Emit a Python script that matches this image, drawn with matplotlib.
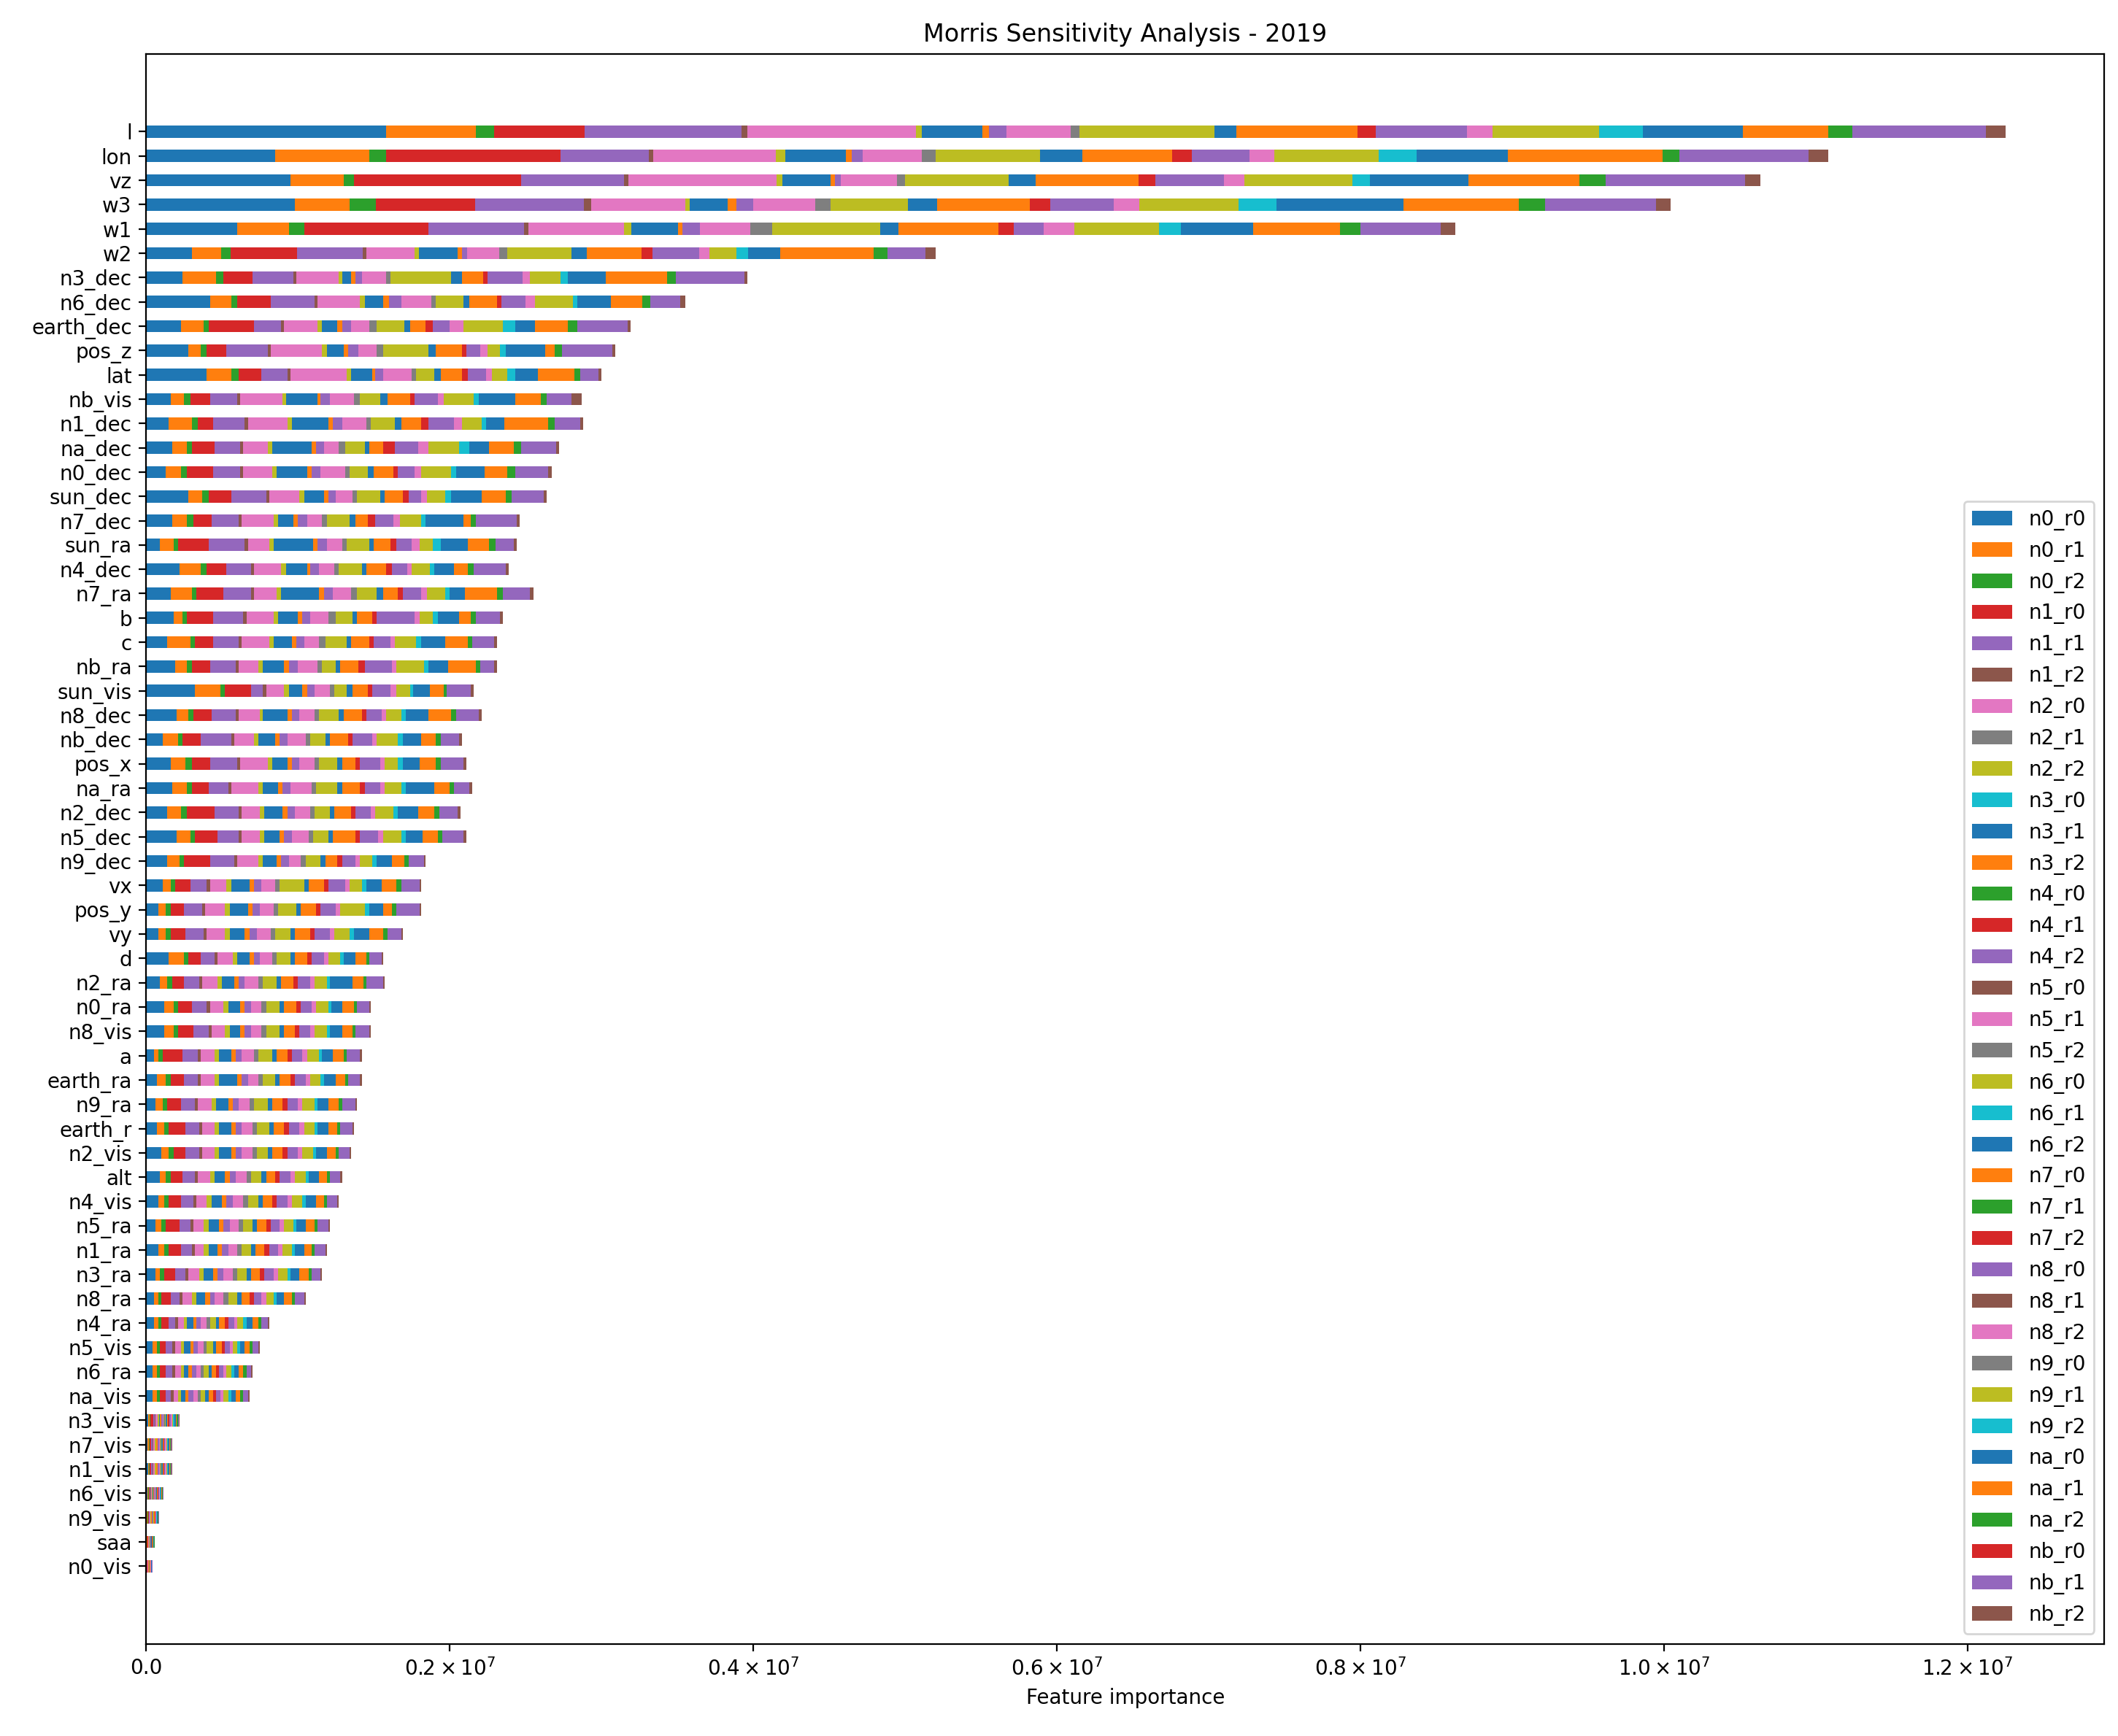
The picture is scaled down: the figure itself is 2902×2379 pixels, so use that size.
import matplotlib
matplotlib.use("Agg")
import matplotlib.pyplot as plt
import numpy as np
import pandas as pd
from matplotlib.ticker import FuncFormatter

# all segment names (legend order)
segments = [f"{n}_r{r}" for n in ['n0', 'n1', 'n2', 'n3', 'n4', 'n5', 'n6', 'n7', 'n8', 'n9', 'na', 'nb'] for r in range(3)]
# segments that actually carry a value in the picture (others are ~0)
active = ['n0_r0', 'n0_r1', 'n0_r2', 'n1_r0', 'n1_r1', 'n1_r2', 'n2_r0', 'n2_r2', 'n3_r1', 'n3_r2',
          'n4_r2', 'n5_r1', 'n5_r2', 'n6_r0', 'n6_r2', 'n7_r0', 'n7_r2', 'n8_r0', 'n8_r2', 'n9_r1',
          'n9_r2', 'na_r0', 'na_r1', 'na_r2', 'nb_r1', 'nb_r2']

# features top to bottom
features = ['l', 'lon', 'vz', 'w3', 'w1', 'w2', 'n3_dec', 'n6_dec', 'earth_dec', 'pos_z', 'lat', 'nb_vis',
            'n1_dec', 'na_dec', 'n0_dec', 'sun_dec', 'n7_dec', 'sun_ra', 'n4_dec', 'n7_ra', 'b', 'c', 'nb_ra',
            'sun_vis', 'n8_dec', 'nb_dec', 'pos_x', 'na_ra', 'n2_dec', 'n5_dec', 'n9_dec', 'vx', 'pos_y', 'vy',
            'd', 'n2_ra', 'n0_ra', 'n8_vis', 'a', 'earth_ra', 'n9_ra', 'earth_r', 'n2_vis', 'alt', 'n4_vis',
            'n5_ra', 'n1_ra', 'n3_ra', 'n8_ra', 'n4_ra', 'n5_vis', 'n6_ra', 'na_vis', 'n3_vis', 'n7_vis',
            'n1_vis', 'n6_vis', 'n9_vis', 'saa', 'n0_vis']

# values in units of 1e5, one row per feature, columns follow `active`
values = [
    [15.8, 5.9, 1.2, 6.0, 10.3, 0.4, 11.1, 0.4, 4.0, 0.4, 1.2, 4.2, 0.6, 8.9, 1.4, 8.0, 1.2, 6.0, 1.7, 7.0, 2.9, 6.6, 5.6, 1.6, 8.8, 1.3],
    [8.5, 6.2, 1.1, 11.5, 5.8, 0.3, 8.1, 0.6, 4.0, 0.4, 0.7, 3.9, 0.9, 6.9, 2.8, 5.9, 1.3, 3.8, 1.6, 6.9, 2.5, 6.0, 10.2, 1.1, 8.5, 1.3],
    [9.5, 3.5, 0.7, 11.0, 6.8, 0.25, 9.8, 0.35, 3.2, 0.3, 0.35, 3.7, 0.55, 6.8, 1.8, 6.8, 1.1, 4.5, 1.35, 7.1, 1.15, 6.5, 7.3, 1.75, 9.2, 1.0],
    [9.8, 3.6, 1.75, 6.5, 7.2, 0.45, 6.2, 0.3, 2.5, 0.6, 1.1, 4.1, 1.0, 5.1, 1.9, 6.1, 1.35, 4.2, 1.7, 6.5, 2.5, 8.4, 7.6, 1.7, 7.3, 1.0],
    [6.0, 3.4, 1.0, 8.2, 6.3, 0.3, 6.3, 0.45, 3.1, 0.3, 1.15, 3.3, 1.45, 7.1, 1.2, 6.6, 1.0, 2.0, 2.0, 5.6, 1.4, 4.8, 5.7, 1.35, 5.3, 0.95],
    [3.0, 1.95, 0.6, 4.4, 4.3, 0.25, 3.2, 0.25, 2.55, 0.3, 0.35, 2.1, 0.55, 4.2, 1.05, 3.6, 0.7, 3.1, 0.65, 1.8, 0.75, 2.1, 6.2, 0.9, 2.5, 0.65],
    [2.4, 2.2, 0.5, 1.9, 2.7, 0.2, 2.8, 0.2, 0.6, 0.3, 0.4, 1.6, 0.3, 4.0, 0.7, 1.4, 0.3, 2.3, 0.5, 2.0, 0.5, 2.5, 4.0, 0.6, 4.5, 0.2],
    [4.2, 1.4, 0.4, 2.2, 2.9, 0.2, 2.8, 0.3, 1.2, 0.4, 0.8, 2.0, 0.3, 1.8, 0.4, 1.8, 0.3, 1.6, 0.6, 2.5, 0.3, 2.2, 2.1, 0.5, 2.0, 0.3],
    [2.3, 1.5, 0.3, 3.0, 1.8, 0.2, 2.2, 0.3, 1.0, 0.3, 0.6, 1.2, 0.5, 1.8, 0.4, 1.0, 0.5, 1.1, 0.9, 2.6, 0.8, 1.3, 2.2, 0.6, 3.3, 0.2],
    [2.8, 0.8, 0.4, 1.3, 2.7, 0.2, 3.4, 0.3, 1.1, 0.3, 0.7, 1.2, 0.4, 3.0, 0.5, 1.7, 0.3, 0.9, 0.5, 0.8, 0.4, 2.6, 0.6, 0.5, 3.3, 0.2],
    [4.0, 1.6, 0.5, 1.5, 1.7, 0.2, 3.7, 0.3, 1.4, 0.2, 0.5, 1.9, 0.3, 1.2, 0.4, 1.4, 0.4, 1.2, 0.4, 1.0, 0.5, 1.5, 2.4, 0.4, 1.2, 0.2],
    [1.6, 0.9, 0.4, 1.3, 1.8, 0.2, 2.8, 0.2, 2.1, 0.2, 0.6, 1.6, 0.4, 1.3, 0.5, 1.5, 0.3, 1.5, 0.4, 2.0, 0.3, 2.4, 1.7, 0.4, 1.6, 0.7],
    [1.5, 1.5, 0.4, 1.0, 2.1, 0.2, 2.6, 0.3, 2.4, 0.3, 0.6, 1.6, 0.3, 1.6, 0.4, 1.3, 0.5, 1.7, 0.5, 1.3, 0.3, 1.2, 2.9, 0.4, 1.7, 0.2],
    [1.7, 1.0, 0.3, 1.5, 1.7, 0.2, 1.6, 0.3, 2.6, 0.3, 0.5, 1.0, 0.4, 1.3, 0.3, 0.9, 0.8, 1.5, 0.7, 2.0, 0.7, 1.3, 1.6, 0.5, 2.3, 0.2],
    [1.3, 1.0, 0.4, 1.7, 1.8, 0.2, 1.9, 0.3, 2.0, 0.3, 0.6, 1.6, 0.3, 1.2, 0.4, 1.3, 0.3, 1.1, 0.4, 2.0, 0.3, 1.9, 1.5, 0.5, 2.2, 0.2],
    [2.8, 0.9, 0.4, 1.5, 2.3, 0.2, 2.0, 0.3, 1.3, 0.3, 0.5, 1.1, 0.3, 1.5, 0.3, 1.2, 0.4, 0.8, 0.4, 1.2, 0.4, 2.0, 1.6, 0.4, 2.1, 0.2],
    [1.7, 1.0, 0.4, 1.2, 1.8, 0.2, 2.1, 0.3, 1.0, 0.3, 0.6, 1.0, 0.3, 1.5, 0.4, 0.8, 0.5, 1.2, 0.4, 1.4, 0.3, 2.5, 0.5, 0.3, 2.7, 0.2],
    [0.9, 0.9, 0.3, 2.0, 2.4, 0.2, 1.4, 0.3, 2.6, 0.3, 0.6, 1.0, 0.3, 1.5, 0.3, 1.1, 0.4, 1.0, 0.5, 0.9, 0.5, 1.8, 1.4, 0.4, 1.2, 0.2],
    [2.2, 1.4, 0.4, 1.3, 1.6, 0.2, 1.8, 0.3, 1.4, 0.2, 0.6, 1.0, 0.3, 1.5, 0.3, 1.3, 0.4, 1.0, 0.3, 1.2, 0.3, 1.3, 0.9, 0.4, 2.1, 0.2],
    [1.6, 1.4, 0.3, 1.8, 1.8, 0.2, 1.5, 0.3, 2.5, 0.3, 0.6, 1.2, 0.4, 1.3, 0.4, 1.0, 0.3, 1.2, 0.4, 1.2, 0.3, 1.0, 2.1, 0.4, 1.8, 0.2],
    [1.8, 0.6, 0.3, 1.7, 2.0, 0.2, 1.8, 0.3, 1.3, 0.3, 0.5, 1.2, 0.5, 1.1, 0.3, 1.0, 0.3, 2.5, 0.3, 0.9, 0.3, 1.4, 0.8, 0.3, 1.6, 0.2],
    [1.4, 1.5, 0.3, 1.2, 1.7, 0.2, 1.8, 0.3, 1.2, 0.3, 0.5, 1.0, 0.4, 1.4, 0.3, 1.2, 0.3, 1.1, 0.3, 1.4, 0.3, 1.6, 1.5, 0.3, 1.4, 0.2],
    [1.9, 0.8, 0.3, 1.2, 1.7, 0.2, 1.3, 0.3, 1.4, 0.3, 0.6, 1.3, 0.3, 0.9, 0.3, 1.2, 0.4, 1.8, 0.3, 1.8, 0.3, 1.3, 1.8, 0.3, 0.9, 0.2],
    [3.2, 1.7, 0.3, 1.7, 0.8, 0.2, 1.2, 0.3, 0.9, 0.3, 0.5, 1.0, 0.3, 0.8, 0.4, 1.0, 0.3, 1.2, 0.4, 0.9, 0.2, 1.1, 0.9, 0.2, 1.6, 0.2],
    [2.0, 0.8, 0.3, 1.2, 1.6, 0.2, 1.4, 0.2, 1.6, 0.3, 0.5, 1.0, 0.3, 1.3, 0.3, 1.2, 0.3, 1.0, 0.3, 1.0, 0.3, 1.5, 1.5, 0.3, 1.5, 0.2],
    [1.1, 1.0, 0.3, 1.2, 2.0, 0.2, 1.3, 0.3, 1.1, 0.3, 0.5, 1.2, 0.3, 1.0, 0.3, 1.2, 0.3, 1.3, 0.3, 1.4, 0.3, 1.2, 1.0, 0.3, 1.2, 0.2],
    [1.6, 1.0, 0.4, 1.2, 1.8, 0.2, 1.8, 0.3, 1.0, 0.3, 0.5, 1.0, 0.3, 1.2, 0.3, 0.9, 0.3, 1.3, 0.3, 0.9, 0.3, 1.1, 1.1, 0.3, 1.5, 0.2],
    [1.7, 1.0, 0.3, 1.1, 1.3, 0.2, 1.8, 0.3, 1.0, 0.3, 0.5, 1.4, 0.3, 1.4, 0.3, 1.2, 0.3, 1.0, 0.3, 1.1, 0.3, 1.9, 1.0, 0.3, 1.0, 0.2],
    [1.4, 0.9, 0.4, 1.8, 1.6, 0.2, 1.2, 0.3, 1.2, 0.3, 0.5, 1.0, 0.3, 1.0, 0.3, 1.1, 0.3, 1.0, 0.3, 1.2, 0.3, 1.3, 1.1, 0.3, 1.2, 0.2],
    [2.0, 0.9, 0.3, 1.5, 1.4, 0.2, 1.2, 0.3, 1.0, 0.3, 0.5, 1.1, 0.3, 1.0, 0.3, 1.5, 0.3, 1.2, 0.3, 1.2, 0.3, 1.1, 1.0, 0.3, 1.4, 0.2],
    [1.4, 0.8, 0.3, 1.7, 1.6, 0.2, 1.4, 0.3, 0.9, 0.3, 0.5, 0.8, 0.3, 1.0, 0.3, 0.8, 0.3, 0.9, 0.3, 0.8, 0.3, 1.0, 0.8, 0.3, 1.0, 0.1],
    [1.1, 0.5, 0.3, 1.0, 1.1, 0.2, 1.1, 0.3, 1.2, 0.3, 0.5, 0.9, 0.3, 1.6, 0.3, 1.0, 0.3, 1.1, 0.3, 0.8, 0.3, 1.0, 1.0, 0.3, 1.2, 0.1],
    [0.8, 0.5, 0.3, 0.9, 1.2, 0.2, 1.3, 0.3, 1.2, 0.3, 0.5, 0.9, 0.3, 1.2, 0.3, 1.0, 0.3, 1.0, 0.3, 1.6, 0.3, 0.9, 0.6, 0.3, 1.5, 0.1],
    [0.8, 0.5, 0.3, 1.0, 1.2, 0.2, 1.2, 0.3, 1.0, 0.3, 0.5, 0.9, 0.3, 1.0, 0.3, 1.0, 0.3, 1.0, 0.3, 1.0, 0.3, 1.0, 0.9, 0.3, 0.9, 0.1],
    [1.5, 1.0, 0.3, 0.8, 0.9, 0.2, 1.0, 0.3, 0.8, 0.3, 0.4, 0.8, 0.3, 0.9, 0.3, 0.8, 0.3, 0.8, 0.3, 0.8, 0.2, 0.8, 0.7, 0.2, 0.8, 0.1],
    [0.9, 0.5, 0.3, 0.8, 1.0, 0.2, 1.0, 0.3, 0.8, 0.3, 0.4, 0.9, 0.3, 0.9, 0.3, 0.8, 0.3, 0.8, 0.3, 0.8, 0.2, 1.5, 0.7, 0.2, 1.1, 0.1],
    [1.2, 0.6, 0.3, 0.9, 1.0, 0.2, 0.9, 0.3, 0.8, 0.3, 0.4, 0.7, 0.3, 0.9, 0.3, 0.8, 0.3, 0.7, 0.3, 0.8, 0.2, 0.7, 0.8, 0.2, 0.8, 0.1],
    [1.2, 0.6, 0.3, 1.0, 1.0, 0.2, 0.9, 0.3, 0.7, 0.3, 0.4, 0.7, 0.3, 0.9, 0.3, 0.7, 0.3, 0.7, 0.3, 0.8, 0.2, 0.8, 0.7, 0.2, 0.9, 0.1],
    [0.5, 0.3, 0.3, 1.3, 1.0, 0.2, 0.9, 0.3, 0.8, 0.3, 0.4, 0.8, 0.3, 0.9, 0.3, 0.7, 0.3, 0.7, 0.3, 0.8, 0.2, 0.7, 0.7, 0.2, 0.9, 0.1],
    [0.7, 0.6, 0.3, 0.9, 0.9, 0.2, 0.9, 0.3, 1.2, 0.3, 0.4, 0.7, 0.3, 0.8, 0.3, 0.7, 0.3, 0.7, 0.3, 0.7, 0.2, 0.8, 0.6, 0.2, 0.8, 0.1],
    [0.6, 0.5, 0.3, 0.9, 0.9, 0.2, 0.9, 0.3, 0.8, 0.3, 0.4, 0.7, 0.3, 0.9, 0.3, 0.7, 0.3, 0.7, 0.3, 0.8, 0.2, 0.7, 0.7, 0.2, 0.9, 0.1],
    [0.7, 0.5, 0.3, 1.1, 0.9, 0.2, 0.8, 0.3, 0.8, 0.3, 0.4, 0.7, 0.3, 0.8, 0.3, 0.7, 0.3, 0.7, 0.3, 0.7, 0.2, 0.7, 0.6, 0.2, 0.8, 0.1],
    [1.0, 0.5, 0.3, 0.8, 0.9, 0.2, 0.8, 0.3, 0.8, 0.3, 0.4, 0.7, 0.3, 0.7, 0.3, 0.7, 0.3, 0.7, 0.3, 0.7, 0.2, 0.7, 0.6, 0.2, 0.7, 0.1],
    [0.9, 0.4, 0.3, 0.8, 0.8, 0.2, 0.8, 0.3, 0.7, 0.3, 0.4, 0.7, 0.3, 0.7, 0.3, 0.6, 0.3, 0.7, 0.3, 0.7, 0.2, 0.7, 0.5, 0.2, 0.7, 0.1],
    [0.8, 0.4, 0.3, 0.8, 0.8, 0.2, 0.7, 0.3, 0.7, 0.3, 0.4, 0.7, 0.3, 0.7, 0.3, 0.6, 0.3, 0.7, 0.3, 0.7, 0.2, 0.7, 0.5, 0.2, 0.7, 0.1],
    [0.6, 0.4, 0.3, 0.9, 0.7, 0.2, 0.7, 0.3, 0.7, 0.3, 0.4, 0.6, 0.3, 0.6, 0.3, 0.6, 0.3, 0.6, 0.3, 0.6, 0.2, 0.6, 0.6, 0.2, 0.7, 0.1],
    [0.8, 0.4, 0.3, 0.8, 0.7, 0.2, 0.6, 0.3, 0.6, 0.3, 0.4, 0.6, 0.3, 0.6, 0.3, 0.6, 0.3, 0.6, 0.3, 0.6, 0.2, 0.6, 0.5, 0.2, 0.7, 0.1],
    [0.6, 0.3, 0.3, 0.7, 0.7, 0.2, 0.7, 0.3, 0.6, 0.3, 0.4, 0.6, 0.3, 0.6, 0.3, 0.6, 0.3, 0.6, 0.3, 0.6, 0.2, 0.6, 0.6, 0.2, 0.6, 0.1],
    [0.5, 0.3, 0.2, 0.6, 0.6, 0.2, 0.6, 0.3, 0.6, 0.3, 0.3, 0.6, 0.3, 0.6, 0.3, 0.5, 0.3, 0.5, 0.3, 0.5, 0.2, 0.5, 0.5, 0.2, 0.6, 0.1],
    [0.5, 0.3, 0.2, 0.5, 0.4, 0.2, 0.4, 0.2, 0.4, 0.2, 0.3, 0.4, 0.2, 0.4, 0.2, 0.4, 0.2, 0.4, 0.2, 0.4, 0.2, 0.4, 0.4, 0.2, 0.4, 0.1],
    [0.4, 0.3, 0.2, 0.4, 0.4, 0.2, 0.4, 0.2, 0.4, 0.2, 0.3, 0.4, 0.2, 0.4, 0.2, 0.4, 0.2, 0.3, 0.2, 0.3, 0.2, 0.3, 0.3, 0.2, 0.4, 0.1],
    [0.4, 0.3, 0.2, 0.4, 0.4, 0.2, 0.4, 0.2, 0.3, 0.2, 0.3, 0.3, 0.2, 0.3, 0.2, 0.3, 0.2, 0.3, 0.2, 0.3, 0.2, 0.3, 0.3, 0.2, 0.3, 0.1],
    [0.4, 0.3, 0.2, 0.4, 0.3, 0.2, 0.3, 0.2, 0.3, 0.2, 0.3, 0.3, 0.2, 0.3, 0.2, 0.3, 0.2, 0.3, 0.2, 0.3, 0.2, 0.3, 0.3, 0.2, 0.3, 0.1],
    [0.15, 0.1, 0.05, 0.15, 0.1, 0.05, 0.15, 0.1, 0.05, 0.1, 0.1, 0.05, 0.1, 0.05, 0.1, 0.05, 0.1, 0.05, 0.1, 0.05, 0.1, 0.1, 0.05, 0.1, 0.05, 0.05],
    [0.1, 0.08, 0.04, 0.12, 0.08, 0.04, 0.1, 0.08, 0.04, 0.08, 0.08, 0.04, 0.08, 0.04, 0.08, 0.04, 0.08, 0.04, 0.08, 0.04, 0.08, 0.08, 0.04, 0.08, 0.04, 0.04],
    [0.12, 0.08, 0.04, 0.1, 0.08, 0.04, 0.1, 0.08, 0.04, 0.08, 0.08, 0.04, 0.08, 0.04, 0.08, 0.04, 0.08, 0.04, 0.08, 0.04, 0.08, 0.08, 0.04, 0.08, 0.04, 0.04],
    [0.08, 0.05, 0.03, 0.07, 0.05, 0.03, 0.07, 0.05, 0.03, 0.05, 0.05, 0.03, 0.05, 0.03, 0.05, 0.03, 0.05, 0.03, 0.05, 0.03, 0.05, 0.05, 0.03, 0.05, 0.03, 0.03],
    [0.06, 0.04, 0.02, 0.05, 0.04, 0.02, 0.05, 0.04, 0.02, 0.04, 0.04, 0.02, 0.04, 0.02, 0.04, 0.02, 0.04, 0.02, 0.04, 0.02, 0.04, 0.04, 0.02, 0.04, 0.02, 0.02],
    [0.04, 0.03, 0.01, 0.03, 0.03, 0.01, 0.03, 0.03, 0.01, 0.03, 0.03, 0.01, 0.03, 0.01, 0.03, 0.01, 0.03, 0.01, 0.03, 0.01, 0.03, 0.03, 0.01, 0.03, 0.01, 0.01],
    [0.02, 0.02, 0.01, 0.02, 0.02, 0.01, 0.02, 0.02, 0.01, 0.02, 0.02, 0.01, 0.02, 0.01, 0.02, 0.01, 0.02, 0.01, 0.02, 0.01, 0.02, 0.02, 0.01, 0.02, 0.01, 0.01],
]

df = pd.DataFrame(0.0, index=features, columns=segments)
df[active] = np.array(values) * 1e5
df = df.iloc[::-1]  # bottom row first so 'l' is on top

fig = plt.figure(figsize=(14.51, 11.895), dpi=200)
ax = fig.add_axes([0.069, 0.053, 0.9245, 0.916])
df.plot.barh(stacked=True, ax=ax, width=0.5, legend=False)

ax.set_xlim(0, 1.29e7)
ax.set_ylim(-3.2, len(features) - 1 + 3.2)
ax.xaxis.set_major_formatter(FuncFormatter(
    lambda v, p: '0.0' if v == 0 else r'$%.1f \times 10^{7}$' % (v / 1e7)))
ax.set_xlabel('Feature importance')
ax.set_title('Morris Sensitivity Analysis - 2019')
ax.legend(loc='lower right')

fig.savefig('out.png', dpi=200)
